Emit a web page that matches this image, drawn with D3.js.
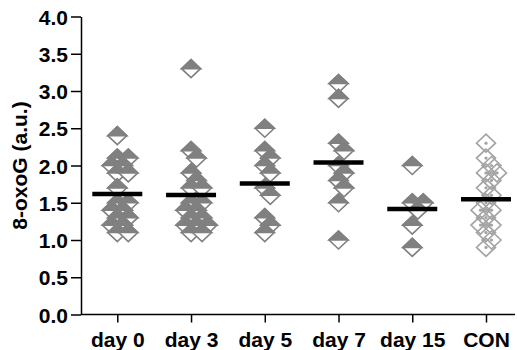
<!DOCTYPE html>
<html><head><meta charset="utf-8">
<script src="https://cdn.jsdelivr.net/npm/d3@7/dist/d3.min.js"></script>
<style>
body{margin:0;background:#fff}
text{font-family:"Liberation Sans",Arial,Helvetica,sans-serif;font-weight:bold}
</style>
</head><body>
<svg id="chart" width="517" height="350"></svg>
<script>
// ---- data ----
const categories = ["day 0", "day 3", "day 5", "day 7", "day 15", "CON"];
const day0  = [2.4, 2.1, 2.1, 2.0, 2.0, 1.9, 1.9, 1.7, 1.5, 1.5, 1.4, 1.4, 1.3, 1.3, 1.2, 1.2, 1.1, 1.1];
const day3  = [3.3, 2.2, 2.1, 1.9, 1.8, 1.7, 1.7, 1.5, 1.5, 1.4, 1.4, 1.3, 1.3, 1.2, 1.2, 1.2, 1.1, 1.1];
const day5  = [2.5, 2.2, 2.1, 2.0, 1.9, 1.7, 1.6, 1.3, 1.2, 1.1];
const day7  = [3.1, 2.9, 2.3, 2.2, 2.0, 1.9, 1.8, 1.7, 1.5, 1.0];
const day15 = [2.0, 1.5, 1.5, 1.4, 1.2, 0.9];
const con   = [2.3, 2.1, 2.0, 1.9, 1.9, 1.8, 1.7, 1.6, 1.5, 1.4, 1.4, 1.3, 1.2, 1.2, 1.1, 1.0, 0.9];
const seriesValues = [day0, day3, day5, day7, day15, con];
const yTicks = [0, 0.5, 1.0, 1.5, 2.0, 2.5, 3.0, 3.5, 4.0];
const yTitle = "8-oxoG (a.u.)";

// ---- layout ----
const svg = d3.select("#chart");
const x = d3.scalePoint().domain(categories).range([117.3, 486]);
const y = d3.scaleLinear().domain([0, 4]).range([314.5, 16.5]);
const axisX0 = 81, axisX1 = 515;
const FS = 21;
const darkGray = "#808080", lightGray = "#a3a3a3";
const W = 9.5, H = 9;   // diamond half width / half height

// y axis
const gy = svg.append("g").attr("transform", `translate(${axisX0},0)`)
  .call(d3.axisLeft(y).tickValues(yTicks).tickFormat(d3.format(".1f"))
        .tickSize(10).tickSizeOuter(0).tickPadding(3));
gy.select(".domain").attr("stroke", "#000").attr("stroke-width", 1.5);
gy.selectAll(".tick line").attr("stroke", "#000").attr("stroke-width", 1.5);
gy.selectAll(".tick text").attr("font-size", FS).attr("fill", "#000")
  .attr("font-family", null).attr("dy", "0.36em");

// x axis
const gx = svg.append("g").attr("transform", `translate(0,${y(0)})`)
  .call(d3.axisBottom(x).tickSize(8).tickSizeOuter(0).tickPadding(5));
gx.select(".domain").remove();
gx.append("line").attr("x1", axisX0).attr("x2", axisX1).attr("y1", 0).attr("y2", 0)
  .attr("stroke", "#000").attr("stroke-width", 1.5);
gx.selectAll(".tick line").attr("stroke", "#000").attr("stroke-width", 1.5);
gx.selectAll(".tick text").attr("font-size", FS).attr("fill", "#000")
  .attr("font-family", null).attr("dy", "0.95em");

// y title
svg.append("text")
  .attr("transform", `translate(27,${(y(0) + y(4)) / 2}) rotate(-90)`)
  .attr("text-anchor", "middle").attr("font-size", FS).attr("fill", "#000")
  .text(yTitle);

// scatter placement: avoid overlaps by stepping sideways
function place(vals) {
  const sorted = vals.slice().sort((a, b) => b - a);
  const placed = [];
  const step = 5.5, minDist = 9.2;
  const order = [0];
  for (let k = 1; k <= 6; k++) { order.push(k * step, -k * step); }
  sorted.forEach(v => {
    const py = y(v);
    let off = 0;
    for (const o of order) {
      const ok = placed.every(p => Math.hypot(p.dx - o, p.py - py) >= minDist);
      if (ok) { off = o; break; }
    }
    placed.push({ v, py, dx: off });
  });
  return placed;
}

const diamond = `M0,${-H} L${W},0 L0,${H} L${-W},0 Z`;
const topHalf = `M0,${-H} L${W},0 L${-W},0 Z`;

categories.forEach((cat, i) => {
  const pts = place(seriesValues[i]);
  const g = svg.append("g").attr("transform", `translate(${x(cat)},0)`);
  const isCon = cat === "CON";
  const s = g.selectAll("g.pt").data(pts).join("g").attr("class", "pt")
    .attr("transform", d => `translate(${d.dx},${d.py})`);
  if (isCon) {
    s.append("path").attr("d", diamond).attr("fill", "none")
      .attr("stroke", lightGray).attr("stroke-width", 1.6);
    s.append("circle").attr("r", 1.6).attr("fill", lightGray);
  } else {
    s.append("path").attr("d", diamond).attr("fill", "#fff")
      .attr("stroke", darkGray).attr("stroke-width", 1.6);
    s.append("path").attr("d", topHalf).attr("fill", darkGray)
      .attr("stroke", darkGray).attr("stroke-width", 1.6).attr("stroke-linejoin", "miter");
  }
  const m = d3.mean(seriesValues[i]);
  g.append("line").attr("x1", -25).attr("x2", 25).attr("y1", y(m)).attr("y2", y(m))
    .attr("stroke", "#000").attr("stroke-width", 4.5);
});
</script>
</body></html>
